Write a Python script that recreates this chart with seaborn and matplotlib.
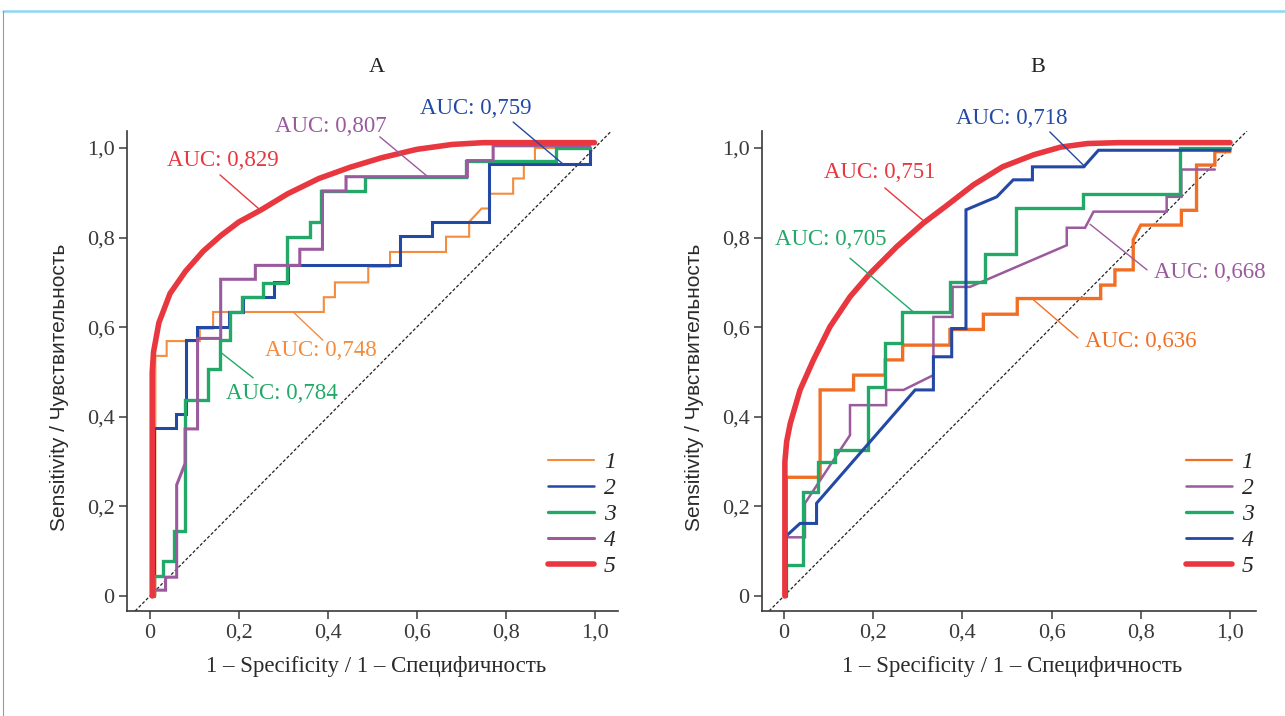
import matplotlib
matplotlib.use("Agg")
import matplotlib.pyplot as plt
import seaborn as sns
from matplotlib.lines import Line2D

# ---------------- Panel A data (1 - specificity, sensitivity) ----------------
a1_x = [0.012, 0.012, 0.0375, 0.0375, 0.112, 0.112, 0.142, 0.142, 0.391, 0.391, 0.416, 0.416,
        0.491, 0.491, 0.54, 0.54, 0.666, 0.666, 0.718, 0.718, 0.746, 0.765, 0.765, 0.817, 0.817,
        0.841, 0.841, 0.866, 0.866, 0.99]
a1_y = [0.0, 0.536, 0.536, 0.569, 0.569, 0.597, 0.597, 0.634, 0.634, 0.667, 0.667, 0.70,
        0.70, 0.735, 0.735, 0.768, 0.768, 0.802, 0.802, 0.835, 0.865, 0.865, 0.898, 0.898, 0.932,
        0.932, 0.966, 0.966, 1.0, 1.0]

a2_x = [0.01, 0.01, 0.058, 0.058, 0.08, 0.08, 0.106, 0.106, 0.177, 0.177, 0.21, 0.21, 0.28, 0.28,
        0.31, 0.31, 0.562, 0.562, 0.634, 0.634, 0.763, 0.763, 0.99, 0.99]
a2_y = [0.0, 0.375, 0.375, 0.406, 0.406, 0.571, 0.571, 0.601, 0.601, 0.634, 0.634, 0.668, 0.668, 0.70,
        0.70, 0.738, 0.738, 0.803, 0.803, 0.835, 0.835, 0.965, 0.965, 1.0]

a3_x = [0.01, 0.01, 0.03, 0.03, 0.055, 0.055, 0.079, 0.079, 0.131, 0.131, 0.157, 0.157, 0.18, 0.18,
        0.206, 0.206, 0.255, 0.255, 0.308, 0.308, 0.359, 0.359, 0.384, 0.384, 0.483, 0.483, 0.712,
        0.712, 0.913, 0.913, 0.99]
a3_y = [0.0, 0.045, 0.045, 0.077, 0.077, 0.145, 0.145, 0.437, 0.437, 0.507, 0.507, 0.572, 0.572, 0.635,
        0.635, 0.668, 0.668, 0.699, 0.699, 0.802, 0.802, 0.834, 0.834, 0.903, 0.903, 0.935, 0.935,
        0.971, 0.971, 1.0, 1.0]

a4_x = [0.01, 0.01, 0.035, 0.035, 0.06, 0.06, 0.079, 0.079, 0.107, 0.107, 0.159, 0.159, 0.237, 0.237,
        0.337, 0.337, 0.388, 0.388, 0.441, 0.441, 0.714, 0.714, 0.772, 0.772, 0.99]
a4_y = [0.0, 0.013, 0.013, 0.042, 0.042, 0.248, 0.296, 0.373, 0.373, 0.575, 0.575, 0.707, 0.707, 0.738,
        0.738, 0.774, 0.774, 0.904, 0.904, 0.936, 0.936, 0.972, 0.972, 1.005, 1.005]

a5_x = [0.005, 0.005, 0.008, 0.02, 0.045, 0.08, 0.12, 0.16, 0.2, 0.25, 0.31, 0.38, 0.45, 0.52, 0.6,
        0.68, 0.75, 1.0]
a5_y = [0.0, 0.50, 0.545, 0.61, 0.675, 0.725, 0.77, 0.805, 0.835, 0.862, 0.898, 0.932, 0.957, 0.978,
        0.997, 1.008, 1.012, 1.012]

a_auc = ["AUC: 0,748", "AUC: 0,759", "AUC: 0,784", "AUC: 0,807", "AUC: 0,829"]

# ---------------- Panel B data ----------------
b1_x = [0.005, 0.005, 0.081, 0.081, 0.156, 0.156, 0.227, 0.227, 0.266, 0.266, 0.372, 0.372, 0.447,
        0.447, 0.523, 0.523, 0.71, 0.71, 0.742, 0.742, 0.783, 0.783, 0.80, 0.891, 0.891, 0.925, 0.925,
        0.966, 0.966, 1.0]
b1_y = [0.0, 0.265, 0.265, 0.46, 0.46, 0.493, 0.493, 0.527, 0.527, 0.56, 0.56, 0.595, 0.595,
        0.629, 0.629, 0.664, 0.664, 0.694, 0.694, 0.728, 0.728, 0.795, 0.828, 0.828, 0.861, 0.861, 0.962,
        0.962, 0.992, 0.992]

b2_x = [0.005, 0.005, 0.047, 0.047, 0.148, 0.148, 0.229, 0.229, 0.268, 0.335, 0.335, 0.378, 0.378,
        0.417, 0.634, 0.634, 0.675, 0.694, 0.858, 0.858, 0.891, 0.891, 0.966]
b2_y = [0.0, 0.131, 0.131, 0.207, 0.359, 0.426, 0.426, 0.46, 0.46, 0.493, 0.623, 0.623, 0.69,
        0.69, 0.783, 0.822, 0.822, 0.858, 0.858, 0.891, 0.891, 0.952, 0.952]

b3_x = [0.005, 0.005, 0.043, 0.043, 0.077, 0.077, 0.114, 0.114, 0.189, 0.189, 0.2265, 0.2265, 0.264,
        0.264, 0.372, 0.372, 0.451, 0.451, 0.521, 0.521, 0.671, 0.671, 0.888, 0.888, 1.0]
b3_y = [0.0, 0.069, 0.069, 0.233, 0.233, 0.30, 0.30, 0.327, 0.327, 0.467, 0.467, 0.565, 0.565,
        0.635, 0.635, 0.70, 0.70, 0.763, 0.763, 0.867, 0.867, 0.897, 0.897, 1.0, 1.0]

b4_x = [0.005, 0.005, 0.036, 0.073, 0.073, 0.294, 0.335, 0.335, 0.376, 0.376, 0.408, 0.408, 0.477,
        0.514, 0.557, 0.557, 0.672, 0.705, 1.0]
b4_y = [0.0, 0.134, 0.162, 0.162, 0.207, 0.46, 0.46, 0.534, 0.534, 0.597, 0.597, 0.862, 0.891,
        0.929, 0.929, 0.958, 0.958, 0.995, 0.995]

b5_x = [0.002, 0.002, 0.006, 0.014, 0.036, 0.066, 0.103, 0.148, 0.193, 0.253, 0.312, 0.36, 0.425,
        0.49, 0.56, 0.62, 0.68, 0.75, 1.0]
b5_y = [0.0, 0.30, 0.345, 0.385, 0.46, 0.527, 0.601, 0.668, 0.72, 0.78, 0.832, 0.868, 0.918,
        0.958, 0.985, 1.002, 1.01, 1.012, 1.012]

b_auc = ["AUC: 0,636", "AUC: 0,668", "AUC: 0,705", "AUC: 0,718", "AUC: 0,751"]

legend_labels = ["1", "2", "3", "4", "5"]
tick_vals = [0, 0.2, 0.4, 0.6, 0.8, 1.0]
tick_labels = ["0", "0,2", "0,4", "0,6", "0,8", "1,0"]

# ---------------- style ----------------
ORANGE_A = "#F48C3E"
ORANGE_B = "#F16F24"
BLUE = "#2449A5"
GREEN = "#22A867"
PURPLE = "#9A5A9D"
RED = "#E8373F"

sns.set_theme(style="ticks")
plt.rcParams["font.family"] = ["Liberation Serif", "DejaVu Serif"]
plt.rcParams["axes.linewidth"] = 1.2

W, H = 1285, 716
fig = plt.figure(figsize=(W / 100, H / 100), dpi=100)
fig.patch.set_facecolor("white")

# page frame
fig.add_artist(Line2D([3 / W, 1.0], [1 - 11 / H, 1 - 11 / H], transform=fig.transFigure,
                      color="#8FD6F2", lw=1.8))
fig.add_artist(Line2D([3 / W, 3 / W], [0.0, 1 - 11 / H], transform=fig.transFigure,
                      color="#9A9A9A", lw=0.8))


def make_axes(left_px, right_px):
    top_px, bottom_px = 131, 611
    return fig.add_axes([left_px / W, 1 - bottom_px / H,
                         (right_px - left_px) / W, (bottom_px - top_px) / H])


def style_axes(ax, xlim):
    ax.set_xlim(*xlim)
    ax.set_ylim(-0.0335, 1.038)
    ax.set_xticks(tick_vals)
    ax.set_xticklabels(tick_labels)
    ax.set_yticks(tick_vals)
    ax.set_yticklabels(tick_labels)
    for s in ["top", "right"]:
        ax.spines[s].set_visible(False)
    for s in ["left", "bottom"]:
        ax.spines[s].set_color("#3a3a3a")
        ax.spines[s].set_linewidth(1.2)
    ax.tick_params(direction="out", length=6, width=1.1, colors="#3a3a3a",
                   labelsize=16, pad=3)
    ax.set_xlabel("1 – Specificity / 1 – Специфичность", fontsize=16.5, color="#2a2a2a")
    ax.set_ylabel("Sensitivity / Чувствительность", fontsize=15,
                  family=["Liberation Sans", "DejaVu Sans"], color="#2a2a2a")
    ax.xaxis.set_label_coords(0.507, -0.093)
    ax.yaxis.set_label_coords(-0.118, 0.465)
    ax.axline((0, 0), (1, 1), color="#222222", lw=0.9, ls=(0, (2.5, 1.6)), zorder=1)
    ax.set_facecolor("white")
    ax.grid(False)


def draw(ax, xs, ys, color, lw):
    sns.lineplot(x=xs, y=ys, ax=ax, sort=False, estimator=None, color=color, lw=lw,
                 zorder=3, solid_joinstyle="miter")


def label(ax, text, color, xy_text, p0, p1):
    ax.text(xy_text[0], xy_text[1], text, color=color, fontsize=16.5, ha="center", va="center",
            zorder=5)
    ax.annotate("", xy=p1, xytext=p0,
                arrowprops=dict(arrowstyle="-", color=color, lw=1.0, shrinkA=0, shrinkB=0),
                zorder=5)


def legend(ax, colors, widths, anchor_x):
    handles = [Line2D([0], [0], color=c, lw=w) for c, w in zip(colors, widths)]
    ax.legend(handles, legend_labels, loc="lower right", bbox_to_anchor=(anchor_x, 0.07),
              frameon=False, handlelength=1.95, handletextpad=0.4, labelspacing=0.19,
              borderaxespad=0, borderpad=0,
              prop={"family": "Liberation Serif", "style": "italic", "size": 17})


# ---------------- Panel A ----------------
axA = make_axes(127, 618)
style_axes(axA, ((127 - 150) / 444.5, (618 - 150) / 444.5))
draw(axA, a1_x, a1_y, ORANGE_A, 1.5)
draw(axA, a2_x, a2_y, BLUE, 2.2)
draw(axA, a3_x, a3_y, GREEN, 2.4)
draw(axA, a4_x, a4_y, PURPLE, 2.2)
draw(axA, a5_x, a5_y, RED, 4.0)
label(axA, a_auc[4], RED, (0.163, 0.973), (0.1575, 0.940), (0.2475, 0.862))
label(axA, a_auc[3], PURPLE, (0.407, 1.047), (0.517, 1.025), (0.625, 0.936))
label(axA, a_auc[1], BLUE, (0.733, 1.089), (0.817, 1.058), (0.927, 0.966))
label(axA, a_auc[0], ORANGE_A, (0.385, 0.549), (0.322, 0.634), (0.389, 0.571))
label(axA, a_auc[2], GREEN, (0.297, 0.453), (0.1575, 0.545), (0.232, 0.487))
legend(axA, [ORANGE_A, BLUE, GREEN, PURPLE, RED], [1.5, 1.8, 2.4, 2.2, 4.0], 0.995)
fig.text(377 / W, 1 - 68 / H, "A", fontsize=16, ha="center", va="center", color="#222222")

# ---------------- Panel B ----------------
axB = make_axes(762, 1256)
style_axes(axB, ((762 - 784) / 446, (1256 - 784) / 446))
draw(axB, b1_x, b1_y, ORANGE_B, 2.4)
draw(axB, b2_x, b2_y, PURPLE, 1.8)
draw(axB, b3_x, b3_y, GREEN, 2.4)
draw(axB, b4_x, b4_y, BLUE, 2.2)
draw(axB, b5_x, b5_y, RED, 4.0)
label(axB, b_auc[3], BLUE, (0.511, 1.067), (0.596, 1.036), (0.675, 0.958))
label(axB, b_auc[4], RED, (0.215, 0.946), (0.226, 0.911), (0.316, 0.835))
label(axB, b_auc[2], GREEN, (0.105, 0.795), (0.148, 0.754), (0.289, 0.635))
label(axB, b_auc[1], PURPLE, (0.955, 0.723), (0.686, 0.830), (0.814, 0.728))
label(axB, b_auc[0], ORANGE_B, (0.80, 0.567), (0.556, 0.664), (0.659, 0.576))
legend(axB, [ORANGE_B, PURPLE, GREEN, BLUE, RED], [1.6, 1.8, 2.4, 2.0, 4.0], 0.995)
fig.text(1038 / W, 1 - 68 / H, "B", fontsize=16, ha="center", va="center", color="#222222")

fig.savefig("out.png", dpi=100, facecolor="white")
